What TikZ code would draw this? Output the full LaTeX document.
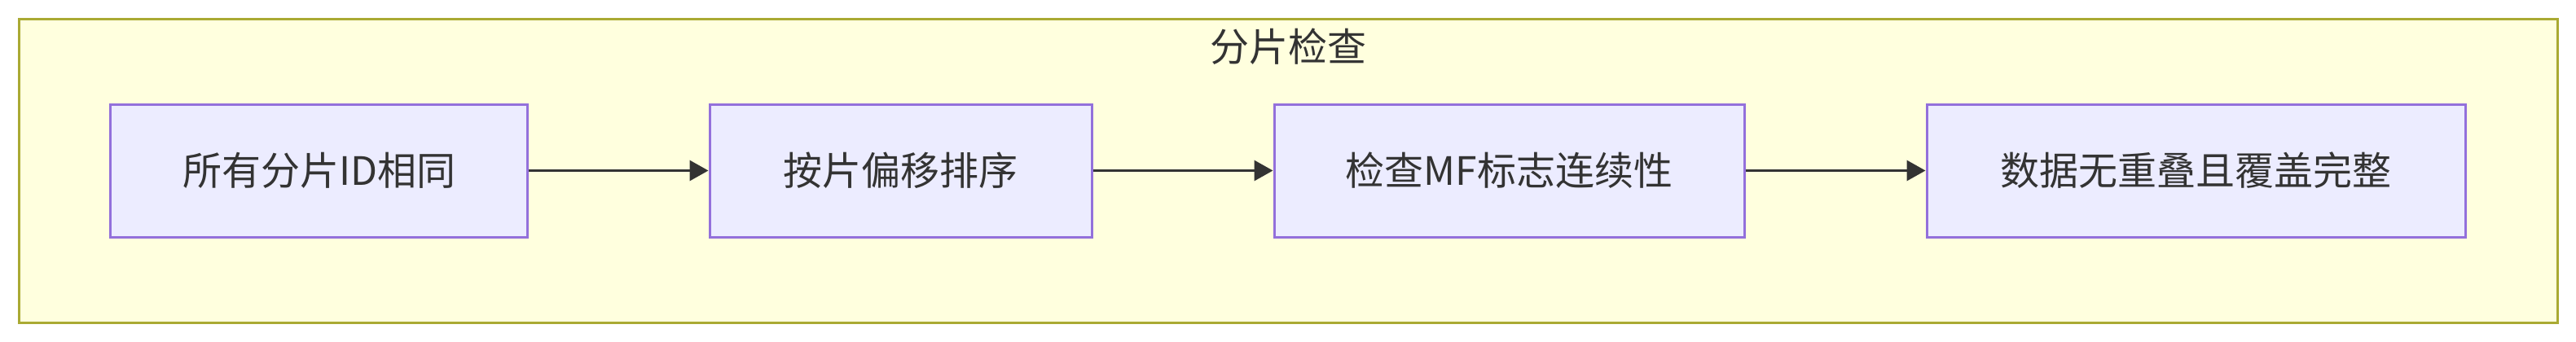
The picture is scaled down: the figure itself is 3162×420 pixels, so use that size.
\documentclass[tikz,border=0pt]{standalone}
\usepackage{fontspec}
\setmainfont{Noto Sans CJK SC}
\usetikzlibrary{arrows.meta}
\definecolor{clfill}{HTML}{FFFFDE}
\definecolor{clline}{HTML}{AAAA33}
\definecolor{ndfill}{HTML}{ECECFF}
\definecolor{ndline}{HTML}{9370DB}
\definecolor{txt}{HTML}{333333}
\begin{document}
\begin{tikzpicture}[x=1pt,y=-1pt,
  cluster/.style={draw=clline,fill=clfill,line width=3pt},
  stepbox/.style={draw=ndline,fill=ndfill,line width=3pt,inner sep=0pt,
    text=txt,font=\fontsize{48}{58}\selectfont},
  flow/.style={draw=txt,line width=3pt,-{Triangle[length=23pt,width=25pt]}},
  ttl/.style={text=txt,font=\fontsize{48}{58}\selectfont,inner sep=0pt}]
\useasboundingbox (0,0) rectangle (3162,420);
\fill[white] (0,0) rectangle (3162,420);
\draw[cluster] (23.5,23.5) rectangle (3139,396);
\node[ttl] (title) at (1581,57) {分片检查};
\node[stepbox, minimum width=512pt, minimum height=163pt] (a) at (391.75,209.5) {所有分片ID相同};
\node[stepbox, minimum width=469pt, minimum height=163pt] (b) at (1105.5,209.5) {按片偏移排序};
\node[stepbox, minimum width=577pt, minimum height=163pt] (c) at (1852.5,209.5) {检查MF标志连续性};
\node[stepbox, minimum width=661pt, minimum height=163pt] (d) at (2695.5,209.5) {数据无重叠且覆盖完整};
\draw[flow] (a) -- (b);
\draw[flow] (b) -- (c);
\draw[flow] (c) -- (d);
\end{tikzpicture}
\end{document}
